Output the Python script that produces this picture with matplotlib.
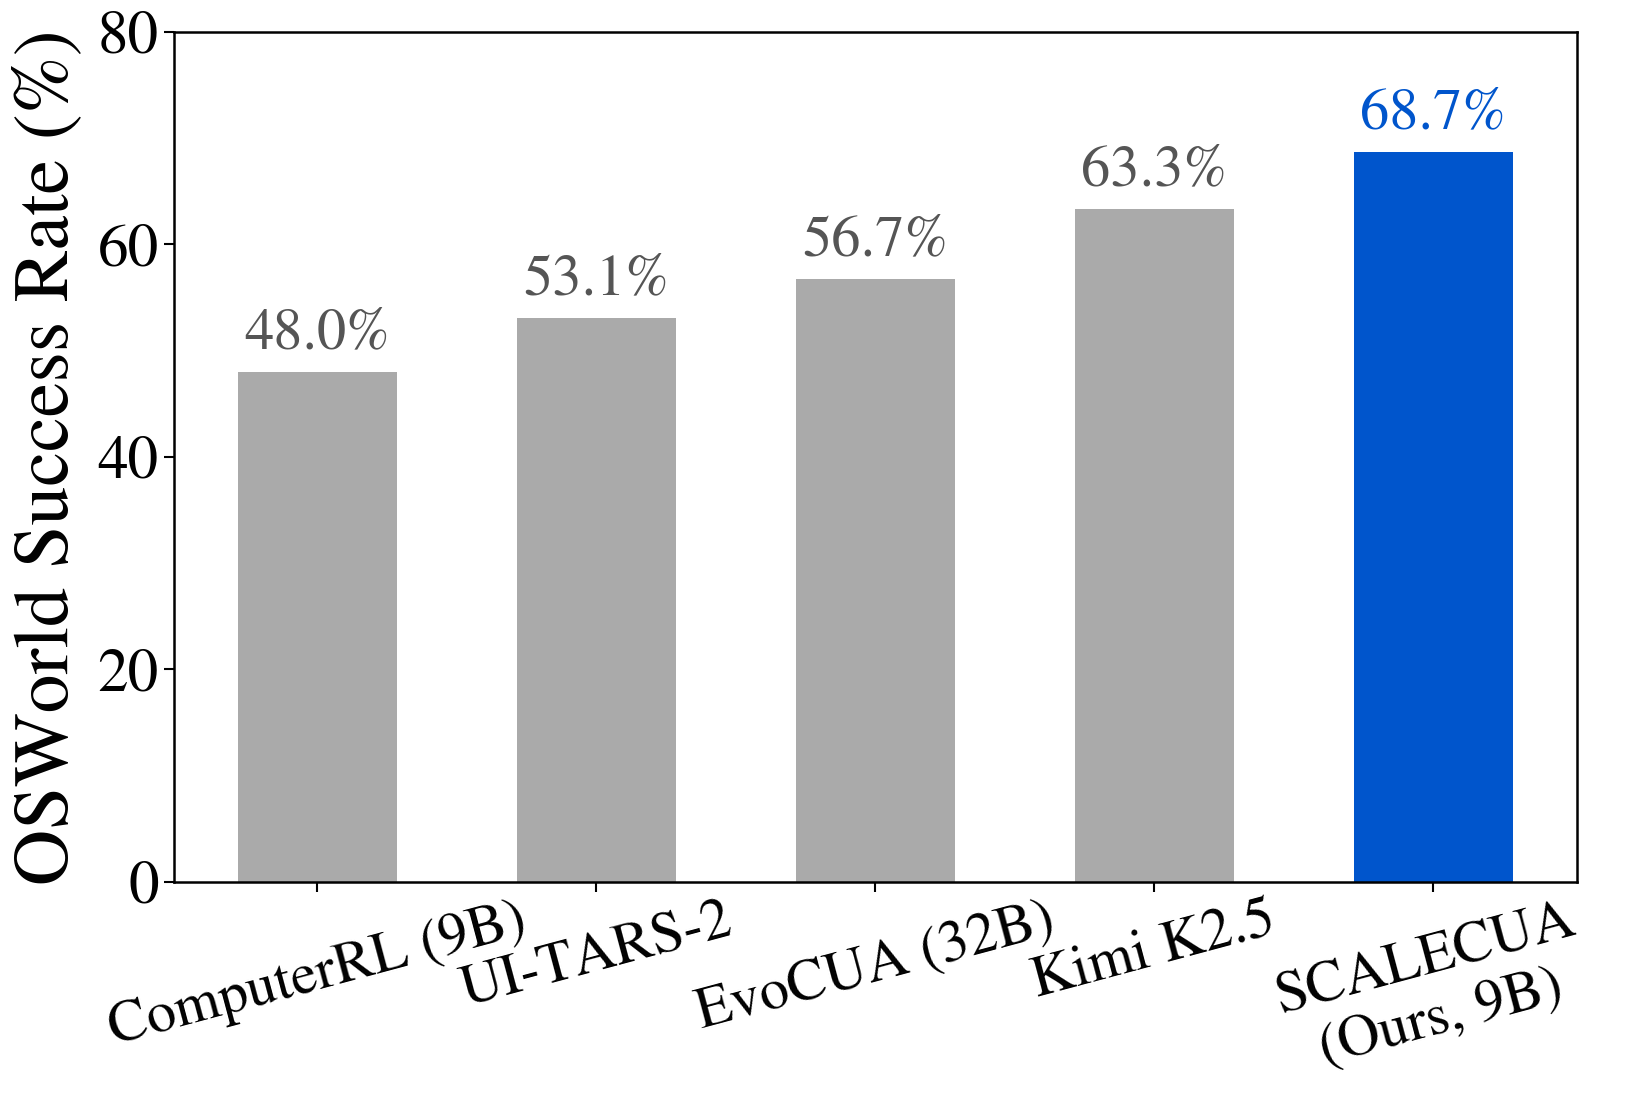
import matplotlib
matplotlib.use("Agg")
import matplotlib.pyplot as plt

models = ["ComputerRL (9B)", "UI-TARS-2", "EvoCUA (32B)", "Kimi K2.5", "SCALECUA\n(Ours, 9B)"]
success = [48.0, 53.1, 56.7, 63.3, 68.7]
bar_colors = ["#aaaaaa", "#aaaaaa", "#aaaaaa", "#aaaaaa", "#0055cc"]
label_colors = ["#555555", "#555555", "#555555", "#555555", "#0055cc"]
yticks = [0, 20, 40, 60, 80]

plt.rcParams['font.family'] = ['STIXGeneral', 'Liberation Serif', 'DejaVu Serif']
plt.rcParams['mathtext.fontset'] = 'stix'

fig = plt.figure(figsize=(16.27, 10.93), dpi=100)
ax = fig.add_axes([0.107, 0.193, 0.862, 0.778])

x = list(range(len(models)))
bars = ax.bar(x, success, width=0.57, color=bar_colors)
for xi, v, c in zip(x, success, label_colors):
    ax.annotate(f"{v:.1f}%", (xi, v), xytext=(0, 17), textcoords="offset points",
                ha="center", va="baseline", fontsize=42, color=c)

ax.set_ylim(0, 80)
ax.set_yticks(yticks)
ax.set_xticks(x)
ax.set_xticklabels(models, rotation=15, ha="center", fontsize=42)
ax.tick_params(axis="y", labelsize=44, length=7, width=1.5, pad=4)
ax.tick_params(axis="x", length=7, width=1.5, pad=2)
for s in ax.spines.values():
    s.set_linewidth(1.8)
ax.set_ylabel("OSWorld Success Rate (%)", fontsize=56, labelpad=10)

fig.savefig("out.png", dpi=100)
